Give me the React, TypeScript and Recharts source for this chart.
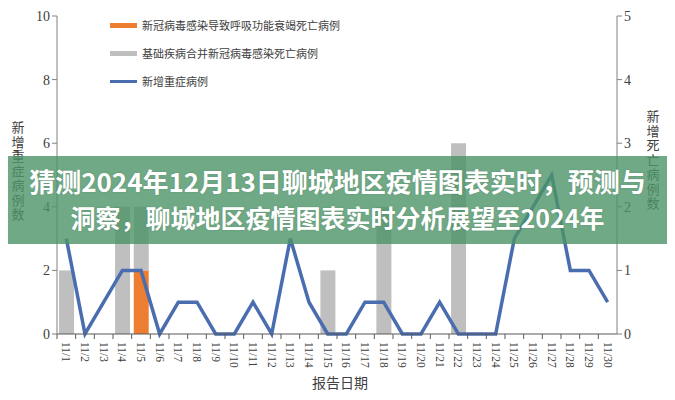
import { Bar, ComposedChart, Line, XAxis, YAxis } from "recharts";

const dates = [
  "11/1", "11/2", "11/3", "11/4", "11/5", "11/6", "11/7", "11/8", "11/9", "11/10",
  "11/11", "11/12", "11/13", "11/14", "11/15", "11/16", "11/17", "11/18", "11/19", "11/20",
  "11/21", "11/22", "11/23", "11/24", "11/25", "11/26", "11/27", "11/28", "11/29", "11/30",
];
const respiratoryDeaths = [
  0, 0, 0, 0, 2, 0, 0, 0, 0, 0, 0, 0, 0, 0, 0, 0, 0, 0, 0, 0, 0, 0, 0, 0, 0, 0, 0, 0, 0, 0,
];
const comorbidDeaths = [
  2, 0, 0, 4, 2, 0, 0, 0, 0, 0, 0, 0, 0, 0, 2, 0, 0, 4, 0, 0, 0, 6, 0, 0, 0, 0, 0, 0, 0, 0,
];
const severeCases = [
  1.5, 0, 0.5, 1, 1, 0, 0.5, 0.5, 0, 0, 0.5, 0, 1.5, 0.5, 0, 0, 0.5, 0.5, 0, 0, 0.5, 0, 0, 0,
  1.5, 2, 2.5, 1, 1, 0.5,
];
const leftTicks = [0, 2, 4, 6, 8, 10];
const rightTicks = [0, 1, 2, 3, 4, 5];

const seriesNames = {
  respiratory: "新冠病毒感染导致呼吸功能衰竭死亡病例",
  comorbid: "基础疾病合并新冠病毒感染死亡病例",
  severe: "新增重症病例",
};

const data = dates.map((date, i) => ({
  date,
  respiratory: respiratoryDeaths[i],
  comorbid: comorbidDeaths[i],
  severe: severeCases[i],
}));

const W = 675;
const H = 400;
const PLOT_LEFT = 57;
const PLOT_RIGHT = 617;
const BAND = (PLOT_RIGHT - PLOT_LEFT) / dates.length;
const CJK = '"Noto Sans CJK SC", sans-serif';
const SERIF = '"Liberation Serif", serif';

const XTick = (props: any) => {
  const { x, y, payload } = props;
  const bx = x - BAND / 2;
  return (
    <g>
      <line x1={bx} x2={bx} y1={y} y2={y + 5} stroke="#595959" />
      <text
        transform={`translate(${x},${y + 8}) rotate(90)`}
        dominantBaseline="central"
        textAnchor="start"
        fontSize={11.5}
        fontFamily={SERIF}
        fill="#404040"
      >
        {payload.value}
      </text>
    </g>
  );
};

// vertical title, characters stacked top to bottom
const VerticalLabel = ({ text, x, y }: { text: string; x: number; y: number }) => (
  <text
    x={x}
    y={y}
    fontSize={13}
    fontFamily={CJK}
    fill="#404040"
    style={{ writingMode: "vertical-rl", textOrientation: "upright", letterSpacing: 1.5 }}
  >
    {text}
  </text>
);

function LegendBox() {
  const row = { display: "flex", alignItems: "center", height: 28 } as const;
  const txt = { fontSize: 11, color: "#404040", marginLeft: 5, fontFamily: CJK } as const;
  return (
    <div style={{ position: "absolute", left: 110, top: 11 }}>
      <div style={row}>
        <div style={{ width: 27, height: 5, background: "#ed7d31" }} />
        <span style={txt}>{seriesNames.respiratory}</span>
      </div>
      <div style={row}>
        <div style={{ width: 27, height: 5, background: "#bfbfbf" }} />
        <span style={txt}>{seriesNames.comorbid}</span>
      </div>
      <div style={row}>
        <div style={{ width: 27, height: 3, background: "#4a6db0" }} />
        <span style={txt}>{seriesNames.severe}</span>
      </div>
    </div>
  );
}

export default function App() {
  return (
    <div style={{ position: "relative", width: W, height: H, margin: -8, background: "#fff", overflow: "hidden" }}>
      <ComposedChart
        width={W}
        height={H}
        data={data}
        margin={{ top: 16, right: 0, bottom: 0, left: 0 }}
        barCategoryGap="11%"
      >
        <XAxis
          dataKey="date"
          interval={0}
          height={66}
          tick={<XTick />}
          tickLine={false}
          tickSize={0}
          tickMargin={0}
          axisLine={{ stroke: "#595959" }}
        />
        <YAxis
          yAxisId="left"
          width={PLOT_LEFT}
          domain={[0, 10]}
          ticks={leftTicks}
          tick={{ fill: "#404040", fontSize: 14, fontFamily: SERIF }}
          tickSize={5}
          axisLine={{ stroke: "#808080" }}
          tickLine={{ stroke: "#808080" }}
        />
        <YAxis
          yAxisId="right"
          orientation="right"
          width={W - PLOT_RIGHT}
          domain={[0, 5]}
          ticks={rightTicks}
          tick={{ fill: "#404040", fontSize: 14, fontFamily: SERIF }}
          tickSize={5}
          axisLine={{ stroke: "#808080" }}
          tickLine={{ stroke: "#808080" }}
        />
        <Bar yAxisId="left" dataKey="respiratory" stackId="d" fill="#ed7d31" isAnimationActive={false} name={seriesNames.respiratory} />
        <Bar yAxisId="left" dataKey="comorbid" stackId="d" fill="#bfbfbf" isAnimationActive={false} name={seriesNames.comorbid} />
        <Line
          yAxisId="right"
          type="linear"
          dataKey="severe"
          stroke="#4a6db0"
          strokeWidth={3.5}
          dot={false}
          isAnimationActive={false}
          name={seriesNames.severe}
        />
        <VerticalLabel text="新增重症病例数" x={18} y={121} />
        <VerticalLabel text="新增死亡病例数" x={653} y={110} />
        <text x={340} y={388} textAnchor="middle" fontSize={14} fontFamily={CJK} fill="#404040">
          报告日期
        </text>
      </ComposedChart>
      <LegendBox />
      <div
        style={{
          position: "absolute",
          left: 0,
          top: 156,
          width: W,
          height: 88,
          background: "rgba(76,148,104,0.8)",
          color: "#fff",
          fontFamily: CJK,
          fontWeight: 700,
          lineHeight: "37px",
          textAlign: "center",
          paddingTop: 6,
          boxSizing: "border-box",
          textShadow: "0 0 2px rgba(0,0,0,0.15)",
        }}
      >
        <div style={{ fontSize: 26 }}>猜测2024年12月13日聊城地区疫情图表实时，预测与</div>
        <div style={{ fontSize: 25 }}>洞察，聊城地区疫情图表实时分析展望至2024年</div>
      </div>
    </div>
  );
}
